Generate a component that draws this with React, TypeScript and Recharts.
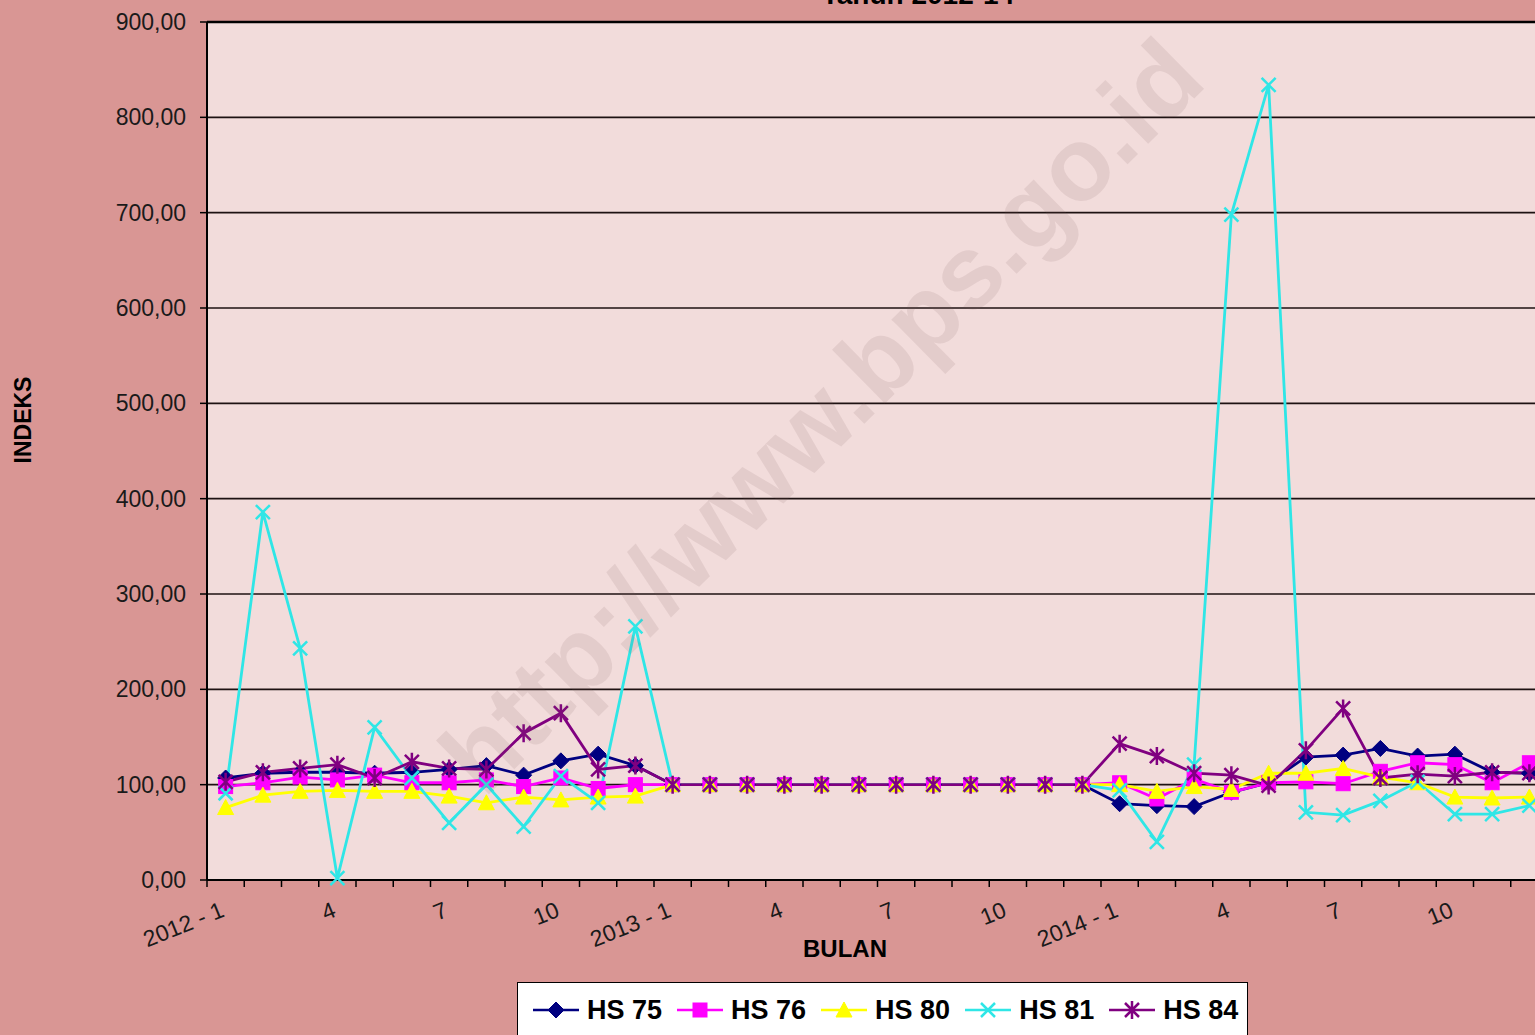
import React from 'react';
import { LineChart, Line, XAxis, YAxis, CartesianGrid, ReferenceLine } from 'recharts';

const FONT = '"Liberation Sans", Arial, sans-serif';

// month labels, Jan 2012 .. Dec 2014
const bulan = [
  '2012 - 1', '2', '3', '4', '5', '6', '7', '8', '9', '10', '11', '12',
  '2013 - 1', '2', '3', '4', '5', '6', '7', '8', '9', '10', '11', '12',
  '2014 - 1', '2', '3', '4', '5', '6', '7', '8', '9', '10', '11', '12',
];

const hs75 = [107, 112, 113, 113, 112, 113, 116, 120, 110, 125, 132, 120,
  100, 100, 100, 100, 100, 100, 100, 100, 100, 100, 100, 100,
  80, 78, 77, 92, 102, 129, 131, 138, 130, 132, 113, 112];
const hs76 = [98, 102, 108, 105, 110, 102, 102, 105, 98, 107, 96, 100,
  100, 100, 100, 100, 100, 100, 100, 100, 100, 100, 100, 100,
  102, 85, 106, 92, 102, 103, 101, 114, 123, 121, 102, 123];
const hs80 = [76, 89, 93, 94, 93, 93, 88, 81, 87, 84, 87, 88,
  100, 100, 100, 100, 100, 100, 100, 100, 100, 100, 100, 100,
  100, 93, 98, 95, 112, 112, 117, 108, 102, 87, 86, 87];
const hs81 = [91, 386, 243, 2, 160, 107, 60, 100, 56, 109, 81, 266,
  100, 100, 100, 100, 100, 100, 100, 100, 100, 100, 100, 100,
  94, 40, 121, 698, 834, 71, 68, 83, 103, 69, 69, 78];
const hs84 = [103, 113, 117, 121, 107, 124, 117, 116, 154, 175, 116, 120,
  100, 100, 100, 100, 100, 100, 100, 100, 100, 100, 100, 100,
  143, 130, 112, 110, 99, 136, 180, 107, 111, 109, 113, 112];

const yTicks = [0, 100, 200, 300, 400, 500, 600, 700, 800, 900];

const data = bulan.map((b, i) => ({
  pos: i + 0.5,
  bulan: b,
  hs75: hs75[i],
  hs76: hs76[i],
  hs80: hs80[i],
  hs81: hs81[i],
  hs84: hs84[i],
}));

// band edges + band centres on the numeric x axis
const xTicks: number[] = [];
for (let i = 0; i <= bulan.length * 2; i++) xTicks.push(i / 2);

type Shape = 'diamond' | 'square' | 'triangle' | 'x' | 'star';

const marker = (shape: Shape, color: string, cx: number, cy: number, key?: string) => {
  switch (shape) {
    case 'diamond':
      return <path key={key} d={`M${cx},${cy - 8}L${cx + 8},${cy}L${cx},${cy + 8}L${cx - 8},${cy}Z`} fill={color} stroke={color} />;
    case 'square':
      return <rect key={key} x={cx - 7} y={cy - 7} width={14} height={14} fill={color} stroke={color} />;
    case 'triangle':
      return <path key={key} d={`M${cx},${cy - 8}L${cx + 8},${cy + 7}L${cx - 8},${cy + 7}Z`} fill={color} stroke={color} />;
    case 'x':
      return <path key={key} d={`M${cx - 7},${cy - 7}L${cx + 7},${cy + 7}M${cx - 7},${cy + 7}L${cx + 7},${cy - 7}`} stroke={color} strokeWidth={2.5} fill="none" />;
    case 'star':
      return <path key={key} d={`M${cx - 7},${cy - 7}L${cx + 7},${cy + 7}M${cx - 7},${cy + 7}L${cx + 7},${cy - 7}M${cx},${cy - 9}L${cx},${cy + 9}`} stroke={color} strokeWidth={2.5} fill="none" />;
  }
};

const series = [
  { key: 'hs75', name: 'HS 75', color: '#000080', shape: 'diamond' as Shape },
  { key: 'hs76', name: 'HS 76', color: '#FF00FF', shape: 'square' as Shape },
  { key: 'hs80', name: 'HS 80', color: '#FFFF00', shape: 'triangle' as Shape },
  { key: 'hs81', name: 'HS 81', color: '#2FE6E6', shape: 'x' as Shape },
  { key: 'hs84', name: 'HS 84', color: '#800080', shape: 'star' as Shape },
];

const XTick = (props: any) => {
  const { x, y, payload } = props;
  const v = payload.value;
  if (Number.isInteger(v)) {
    return <line x1={x} y1={y} x2={x} y2={y + 7} stroke="#000" strokeWidth={1.5} />;
  }
  const i = Math.floor(v);
  if (i % 3 !== 0) return <g />;
  const ty = y + 36;
  return (
    <text x={x} y={ty} transform={`rotate(-22 ${x} ${ty})`} textAnchor="end"
      fontSize={23} fill="#1a1a1a" fontFamily={FONT}>
      {bulan[i]}
    </text>
  );
};

const LegendBox = () => (
  <div style={{
    position: 'absolute', left: 517, top: 982, width: 731, height: 60,
    background: '#fff', border: '1px solid #000', display: 'flex',
    alignItems: 'flex-start', paddingTop: 13, boxSizing: 'border-box',
  }}>
    {series.map((s, i) => (
      <div key={s.key} style={{ display: 'flex', alignItems: 'center', marginLeft: i === 0 ? 14 : 14 }}>
        <svg width={48} height={24}>
          <line x1={1} y1={12} x2={47} y2={12} stroke={s.color} strokeWidth={2.5} />
          {marker(s.shape, s.color, 24, 12)}
        </svg>
        <span style={{ fontFamily: FONT, fontWeight: 'bold', fontSize: 27, color: '#000', marginLeft: 7, lineHeight: '28px' }}>
          {s.name}
        </span>
      </div>
    ))}
  </div>
);

export default function App() {
  return (
    <div style={{
      position: 'fixed', left: 0, top: 0, width: 1535, height: 1035,
      overflow: 'hidden', background: '#D99694',
    }}>
      <div style={{
        position: 'absolute', left: 918, top: -19, transform: 'translateX(-50%)',
        fontFamily: FONT, fontWeight: 'bold', fontSize: 28, lineHeight: '28px', whiteSpace: 'nowrap',
      }}>
        Tahun 2012-14
      </div>
      <LineChart width={1560} height={1035} data={data}
        margin={{ top: 22, right: 12, left: 0, bottom: 85 }}>
        <CartesianGrid vertical={false} stroke="#1e1212" strokeWidth={1.6}
          fill="#F2DCDB" fillOpacity={1} />
        <XAxis type="number" dataKey="pos" domain={[0, bulan.length]} ticks={xTicks}
          interval={0} height={70} tickSize={0} tickMargin={0} tickLine={false}
          tick={<XTick />} axisLine={{ stroke: '#000', strokeWidth: 2 }} />
        <YAxis type="number" domain={[0, 900]} ticks={yTicks} interval={0} width={207}
          tickSize={7} tickMargin={14}
          tickLine={{ stroke: '#000', strokeWidth: 1.5 }}
          axisLine={{ stroke: '#000', strokeWidth: 2 }}
          tick={{ fontSize: 23, fill: '#1a1a1a', fontFamily: FONT }}
          tickFormatter={(v: number) => v.toFixed(2).replace('.', ',')} />
        <ReferenceLine y={900} stroke="#000" strokeWidth={2.5} />
        {series.map((s) => (
          <Line key={s.key} type="linear" dataKey={s.key} name={s.name}
            stroke={s.color} strokeWidth={2.8} isAnimationActive={false}
            activeDot={false}
            dot={(p: any) => marker(s.shape, s.color, p.cx, p.cy, `${s.key}-${p.index}`)} />
        ))}
      </LineChart>
      <svg width={1535} height={1035} style={{ position: 'absolute', left: 0, top: 0, pointerEvents: 'none' }}>
        <text x={827} y={422} transform="rotate(-44.6 827 422)" textAnchor="middle"
          dominantBaseline="middle" fontSize={104} fontWeight="bold" fontFamily={FONT}
          fill="#7a5a5a" fillOpacity={0.12}>
          http://www.bps.go.id
        </text>
        <text x={25} y={420} transform="rotate(-90 25 420)" textAnchor="middle"
          dominantBaseline="middle" fontSize={23} fontWeight="bold" fontFamily={FONT} fill="#000">
          INDEKS
        </text>
        <text x={845} y={951} textAnchor="middle" dominantBaseline="middle"
          fontSize={24} fontWeight="bold" fontFamily={FONT} fill="#000">
          BULAN
        </text>
      </svg>
      <LegendBox />
    </div>
  );
}
